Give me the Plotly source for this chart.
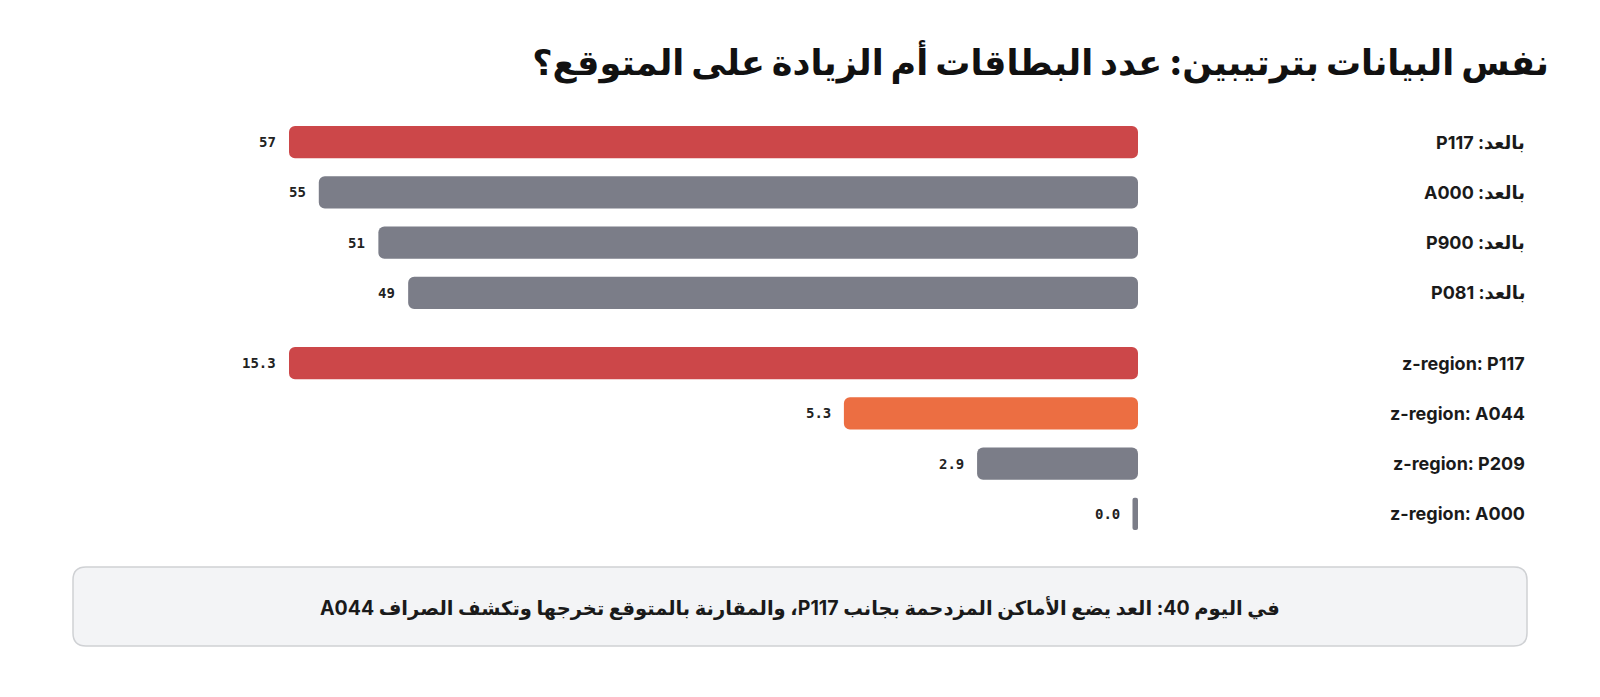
import plotly.graph_objects as go
from plotly.subplots import make_subplots

# ---- data ----
count_labels = ["بالعد: P117", "بالعد: A000", "بالعد: P900", "بالعد: P081"]
count_values = [57, 55, 51, 49]
count_colors = ["#cc4749", "#7b7d88", "#7b7d88", "#7b7d88"]

z_labels = ["z-region: P117", "z-region: A044", "z-region: P209", "z-region: A000"]
z_values = [15.3, 5.3, 2.9, 0.0]
z_colors = ["#cc4749", "#ec6e42", "#7b7d88", "#7b7d88"]

title_text = "نفس البيانات بترتيبين: عدد البطاقات أم الزيادة على المتوقع؟"
note_text = "في اليوم 40: العد يضع الأماكن المزدحمة بجانب P117، والمقارنة بالمتوقع تخرجها وتكشف الصراف A044"

# ---- layout geometry ----
W, H = 1600, 697
ML, MR, MT, MB = 289, 462, 117, 158
PW = W - ML - MR
PH = H - MT - MB
MIN_PX = 5.5  # minimum visible bar length in pixels

RLE, PDF = "\u202b", "\u202c"


def rtl(s):
    return RLE + s + PDF


def px2x(p):
    return (p - ML) / PW


def py2y(p):
    return (H - MB - p) / PH


fig = make_subplots(rows=2, cols=1, vertical_spacing=20 / PH)

label_font = dict(family="Inter, DejaVu Sans, sans-serif", size=18, color="#1a1a1a", weight=700)
value_font = dict(family="DejaVu Sans Mono, monospace", size=14, color="#222222", weight=700)

groups = [
    (count_labels, count_values, count_colors, "{:.0f}", 1),
    (z_labels, z_values, z_colors, "{:.1f}", 2),
]

annotations = []
for labels, values, colors, fmt, row in groups:
    vmax = max(values)
    shown = [max(v, vmax * MIN_PX / PW) for v in values]
    fig.add_trace(
        go.Bar(
            x=shown, base=[0] * len(shown),
            y=labels, orientation="h",
            marker=dict(color=colors, opacity=1, cornerradius=6, line=dict(width=0)),
            hoverinfo="skip", showlegend=False,
        ),
        row=row, col=1,
    )
    xa = "x" if row == 1 else "x2"
    ya = "y" if row == 1 else "y2"
    for lab, v, s in zip(labels, values, shown):
        annotations.append(dict(
            x=s, y=lab, xref=xa, yref=ya, text=fmt.format(v),
            showarrow=False, xanchor="right", yanchor="middle", xshift=-11,
            font=value_font,
        ))
        annotations.append(dict(
            x=px2x(1527), y=lab, xref="paper", yref=ya,
            text=rtl(lab) if any("\u0600" <= c <= "\u06ff" for c in lab) else lab,
            showarrow=False, xanchor="right", yanchor="middle",
            font=label_font,
        ))
    fig.update_xaxes(range=[vmax, 0], showgrid=False, zeroline=False, showticklabels=False,
                     showline=False, ticks="", fixedrange=True, row=row, col=1)
    fig.update_yaxes(categoryorder="array", categoryarray=labels, autorange="reversed",
                     showgrid=False, zeroline=False, showticklabels=False, showline=False,
                     ticks="", fixedrange=True, row=row, col=1)

# note box (rounded rectangle)
bx0, bx1, by0, by1, r = 73, 1527, 567, 646, 13
path = (
    f"M {px2x(bx0 + r)},{py2y(by0)} L {px2x(bx1 - r)},{py2y(by0)} "
    f"Q {px2x(bx1)},{py2y(by0)} {px2x(bx1)},{py2y(by0 + r)} "
    f"L {px2x(bx1)},{py2y(by1 - r)} Q {px2x(bx1)},{py2y(by1)} {px2x(bx1 - r)},{py2y(by1)} "
    f"L {px2x(bx0 + r)},{py2y(by1)} Q {px2x(bx0)},{py2y(by1)} {px2x(bx0)},{py2y(by1 - r)} "
    f"L {px2x(bx0)},{py2y(by0 + r)} Q {px2x(bx0)},{py2y(by0)} {px2x(bx0 + r)},{py2y(by0)} Z"
)
fig.add_shape(type="path", path=path, xref="paper", yref="paper",
              fillcolor="#f3f4f6", line=dict(color="#cfd1d4", width=1.5), layer="below")

annotations.append(dict(
    x=px2x(800), y=py2y(607), xref="paper", yref="paper", text=rtl(note_text),
    showarrow=False, xanchor="center", yanchor="middle",
    font=dict(family="Inter, DejaVu Sans, sans-serif", size=19.5, color="#1a1a1a", weight=700),
))

fig.update_layout(
    width=W, height=H,
    margin=dict(l=ML, r=MR, t=MT, b=MB),
    paper_bgcolor="white", plot_bgcolor="white",
    bargap=0.36,
    title=dict(text=rtl(title_text), x=1549 / W, xref="container", xanchor="right",
               y=1 - 63 / H, yref="container", yanchor="middle",
               font=dict(family="Inter, DejaVu Sans, sans-serif", size=35, color="#111111", weight=900)),
    annotations=annotations,
    showlegend=False,
)

fig.write_html("out.html", config={"displayModeBar": False})
